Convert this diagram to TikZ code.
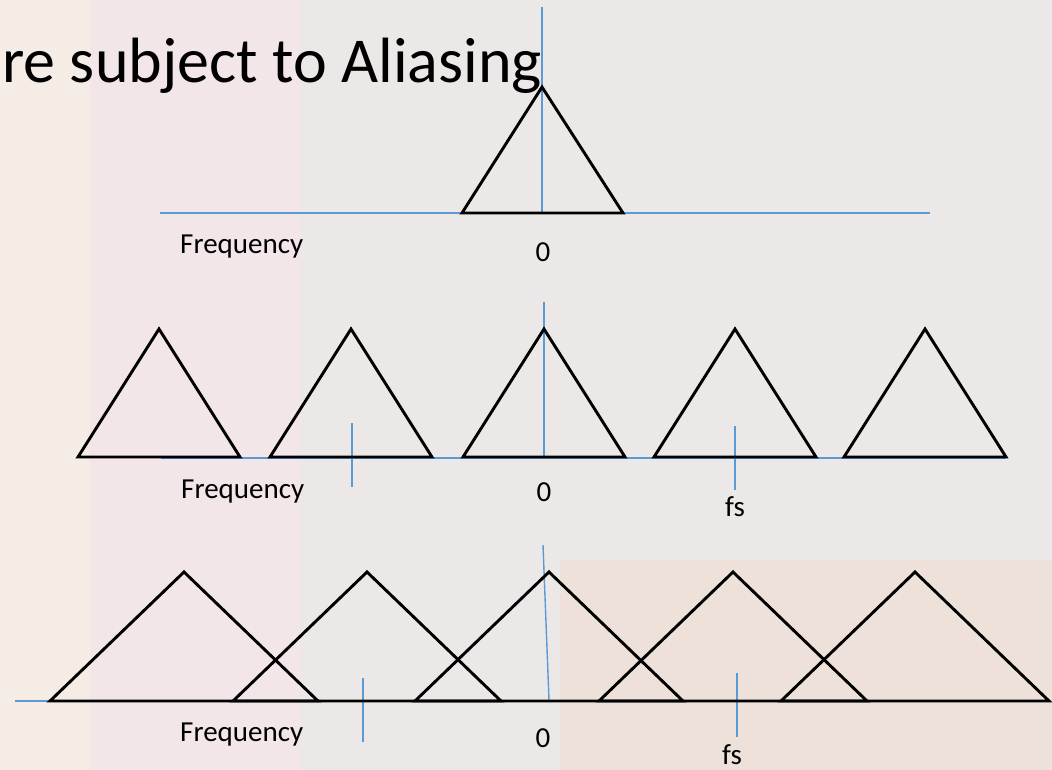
\documentclass[tikz,border=0pt]{standalone}
\usepackage{fontspec}
\setmainfont{Carlito}
\definecolor{axisblue}{RGB}{91,155,213}
\definecolor{bgbase}{RGB}{237,232,232}
\definecolor{bgbeige}{RGB}{245,236,230}
\definecolor{bgpink}{RGB}{242,230,233}
\definecolor{bgorange}{RGB}{237,225,218}
\tikzset{
  tri/.style={draw=black,line width=2.9pt,line join=miter},
  axisline/.style={draw=axisblue,line width=1.4pt},
  lbl/.style={inner sep=0pt,anchor=base,font=\fontsize{29}{32}\selectfont},
  lblw/.style={inner sep=0pt,anchor=base west,font=\fontsize{29}{32}\selectfont},
}
\begin{document}
\begin{tikzpicture}[x=1pt,y=-1pt]
\useasboundingbox (0,0) rectangle (1052,770);
% background
\fill[bgbase] (0,0) rectangle (1052,770);
\fill[bgbeige] (0,0) rectangle (90,770);
\fill[bgpink] (90,0) rectangle (300,770);
\fill[bgorange] (560,560) rectangle (1052,770);
% title
\node[inner sep=0pt,anchor=base west,font=\fontsize{64}{70}\selectfont] (title) at (2,83) {re subject to Aliasing};

% ---------- top panel ----------
\coordinate (a1l) at (160,213);
\coordinate (a1r) at (930,213);
\coordinate (v1t) at (542,7);
\coordinate (v1b) at (542,213);
\draw[axisline] (a1l) -- (a1r);
\draw[axisline] (v1t) -- (v1b);
\draw[tri] (462,213) -- (542,87) -- (623,213) -- cycle;
\node[lblw] (freq1) at (180,253) {Frequency};
\node[lbl] (zero1) at (543,261) {0};

% ---------- middle panel ----------
\coordinate (a2l) at (161,458);
\coordinate (a2r) at (1006,458);
\coordinate (v2t) at (544,302);
\coordinate (v2b) at (544,458);
\draw[axisline] (a2l) -- (a2r);
\draw[axisline] (v2t) -- (v2b);
\coordinate (t2at) at (352,423);
\coordinate (t2ab) at (352,487);
\coordinate (t2bt) at (735,426);
\coordinate (t2bb) at (735,490);
\draw[axisline] (t2at) -- (t2ab);
\draw[axisline] (t2bt) -- (t2bb);
\foreach \c in {159,351,544,735,925}{
  \draw[tri] (\c-81,457) -- (\c,329) -- (\c+81,457) -- cycle;
}
\node[lblw] (freq2) at (181,498) {Frequency};
\node[lbl] (zero2) at (544,501) {0};
\node[lbl] (fs2) at (735,516) {fs};

% ---------- bottom panel ----------
\coordinate (a3l) at (15,701);
\coordinate (a3r) at (1049,701);
\coordinate (v3t) at (543,545);
\coordinate (v3b) at (549,700);
\draw[axisline] (a3l) -- (a3r);
\draw[axisline] (v3t) -- (v3b);
\coordinate (t3at) at (363,678);
\coordinate (t3ab) at (363,742);
\coordinate (t3bt) at (737,673);
\coordinate (t3bb) at (737,737);
\draw[axisline] (t3at) -- (t3ab);
\draw[axisline] (t3bt) -- (t3bb);
\foreach \c in {184,367,549,733,915}{
  \draw[tri] (\c-134,701) -- (\c,572) -- (\c+134,701) -- cycle;
}
\node[lblw] (freq3) at (180,741) {Frequency};
\node[lbl] (zero3) at (543,747) {0};
\node[lbl] (fs3) at (732,764) {fs};
\end{tikzpicture}
\end{document}
